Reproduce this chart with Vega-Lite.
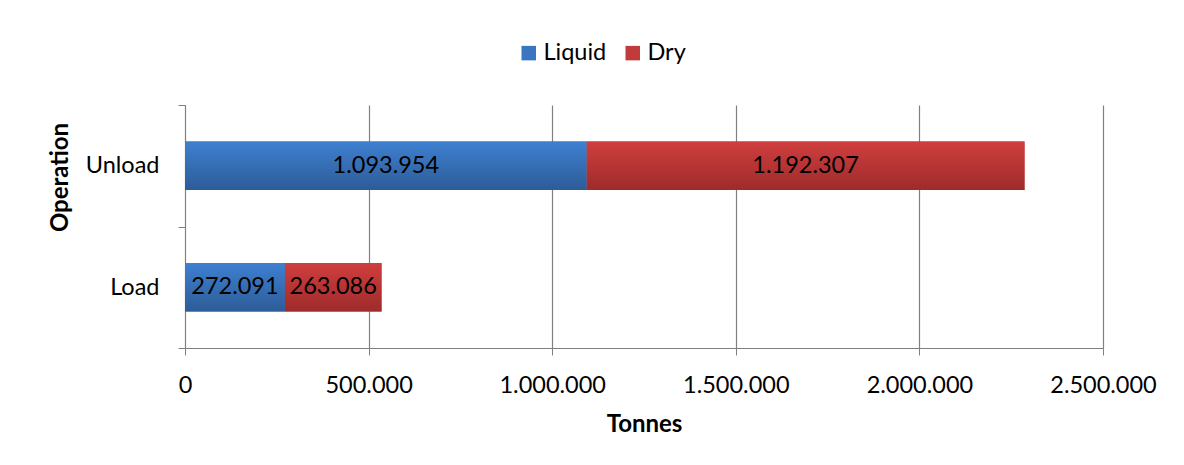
{
  "$schema": "https://vega.github.io/schema/vega-lite/v6.json",
  "width": 918,
  "height": 243,
  "autosize": {"type": "none"},
  "padding": {"left": 185, "top": 105, "right": 81, "bottom": 117},
  "config": {
    "locale": {"number": {"decimal": ",", "thousands": ".", "grouping": [3], "currency": ["", ""]}},
    "view": {"stroke": null},
    "font": "Lato"
  },
  "data": {
    "values": [
      {"operation": "Unload", "type": "Liquid", "order": 1, "tonnes": 1093954},
      {"operation": "Unload", "type": "Dry", "order": 2, "tonnes": 1192307},
      {"operation": "Load", "type": "Liquid", "order": 1, "tonnes": 272091},
      {"operation": "Load", "type": "Dry", "order": 2, "tonnes": 263086}
    ]
  },
  "encoding": {
    "y": {
      "field": "operation",
      "type": "nominal",
      "sort": ["Unload", "Load"],
      "scale": {"paddingInner": 0, "paddingOuter": 0},
      "axis": {
        "title": "Operation",
        "tickBand": "extent",
        "domainColor": "#808080",
        "tickColor": "#808080",
        "tickSize": 7,
        "labelFontSize": 23.5,
        "labelPadding": 19,
        "labelColor": "black",
        "titleFontSize": 24,
        "titleFontWeight": "bold",
        "titleColor": "black",
        "titleX": -118,
        "titleY": 72,
        "titleAngle": 270,
        "titleBaseline": "alphabetic",
        "titleAlign": "center"
      }
    },
    "x": {
      "field": "tonnes",
      "type": "quantitative",
      "stack": "zero",
      "scale": {"domain": [0, 2500000], "nice": false},
      "axis": {
        "title": "Tonnes",
        "values": [0, 500000, 1000000, 1500000, 2000000, 2500000],
        "format": ",d",
        "grid": true,
        "gridColor": "#808080",
        "gridWidth": 1.2,
        "domainColor": "#808080",
        "domainWidth": 1.2,
        "tickColor": "#808080",
        "tickSize": 7,
        "labelFontSize": 23.5,
        "labelPadding": 18,
        "labelColor": "black",
        "labelFlush": false,
        "labelOverlap": false,
        "titleFontSize": 24,
        "titleFontWeight": "bold",
        "titleColor": "black",
        "titlePadding": 16
      }
    },
    "order": {"field": "order", "type": "quantitative"}
  },
  "layer": [
    {
      "mark": {"type": "bar", "height": {"band": 0.4}},
      "encoding": {
        "color": {
          "field": "type",
          "type": "nominal",
          "scale": {"domain": ["Liquid", "Dry"], "range": ["#3a75c2", "#c23a3a"]},
          "legend": {
            "orient": "none",
            "legendX": 332,
            "legendY": -64,
            "direction": "horizontal",
            "title": null,
            "symbolType": "square",
            "symbolSize": 210,
            "symbolStrokeWidth": 0,
            "labelFontSize": 23.5,
            "labelColor": "black",
            "labelOffset": 3,
            "columnPadding": 14,
            "padding": 0
          }
        }
      }
    },
    {
      "mark": {"type": "bar", "height": {"band": 0.4}},
      "encoding": {
        "detail": {"field": "type", "type": "nominal"},
        "color": {
          "condition": {
            "test": "datum.type === 'Liquid'",
            "value": {"gradient": "linear", "x1": 0, "y1": 0, "x2": 0, "y2": 1, "stops": [{"offset": 0, "color": "#3e80d1"}, {"offset": 1, "color": "#2d5c97"}]}
          },
          "value": {"gradient": "linear", "x1": 0, "y1": 0, "x2": 0, "y2": 1, "stops": [{"offset": 0, "color": "#d03e3e"}, {"offset": 1, "color": "#9e2b2b"}]}
        }
      }
    },
    {
      "mark": {"type": "text", "fontSize": 23.5, "color": "black"},
      "encoding": {
        "x": {
          "field": "tonnes",
          "type": "quantitative",
          "stack": "zero",
          "bandPosition": 0.5
        },
        "text": {"field": "tonnes", "type": "quantitative", "format": ",d"},
        "detail": {"field": "type", "type": "nominal"}
      }
    }
  ]
}
